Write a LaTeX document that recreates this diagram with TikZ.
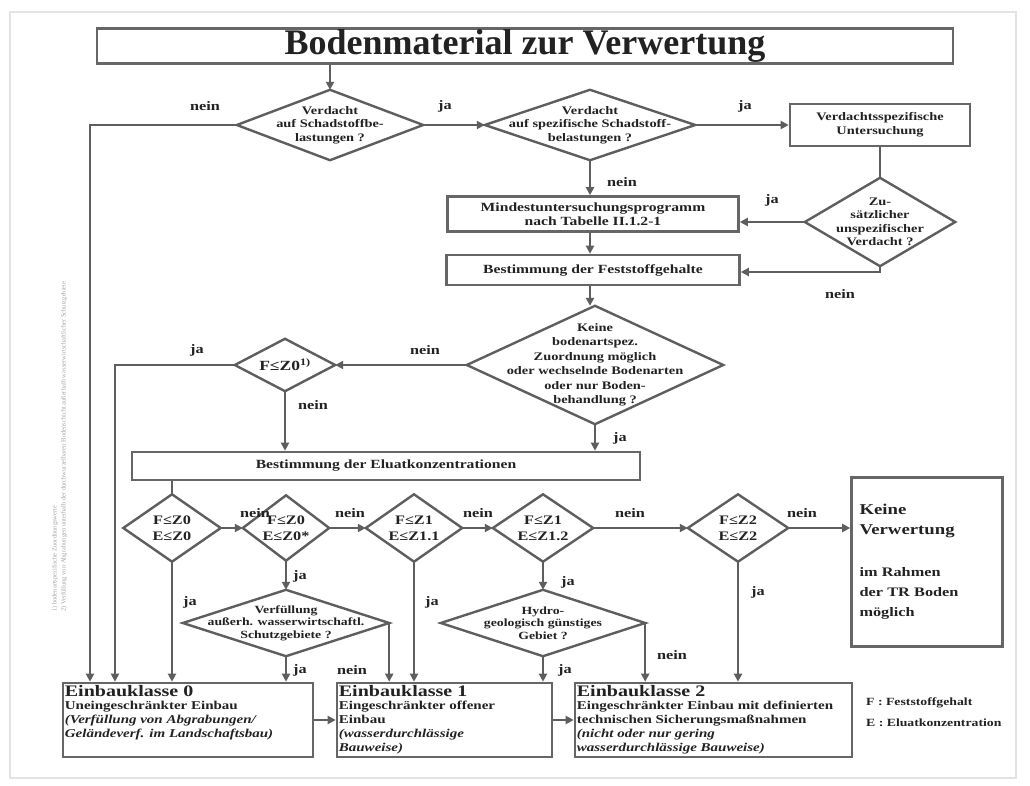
\documentclass[tikz,border=0pt]{standalone}
\usepackage{fontspec}
\setmainfont{Liberation Serif}
\newfontfamily\bodyfont{Liberation Serif}[FakeStretch=1.25]
\usetikzlibrary{arrows.meta,calc}
\definecolor{lc}{HTML}{5E5E5E}
\definecolor{bc}{HTML}{666666}
\definecolor{tc}{HTML}{222222}
\newcommand\myfs[2]{\bodyfont\bfseries\fontsize{#1}{#2}\selectfont}
\newcommand\drawdia[1]{\draw[ln] (#1.north)--(#1.east)--(#1.south)--(#1.west)--cycle;}
\begin{document}
\begin{tikzpicture}[x=1pt,y=-1pt,
  ln/.style={draw=lc, line width=2.4pt},
  arr/.style={ln, -{Triangle[length=8pt,width=8pt]}},
  bx/.style={draw=bc, line width=2.6pt, rectangle, inner sep=0pt, text=tc, align=center, font=\myfs{12.5}{14}},
  dm/.style={rectangle, inner sep=0pt, text=tc, align=center, font=\myfs{11.5}{13.5}},
  lab/.style={inner sep=0pt, text=tc, font=\myfs{13}{14}},
  ektxt/.style={inner sep=0pt, text=tc, align=left, anchor=north west, font=\myfs{12}{13.8}},
  fn/.style={inner sep=0pt, rotate=90, anchor=west, text=gray!70, font=\fontsize{6.5}{7}\selectfont}]
\fill[white] (0,0) rectangle (1030,786);
\useasboundingbox (0,0) rectangle (1030,786);
\draw[gray!22, line width=1.5pt] (10,12) rectangle (1016,778);

% title
\node[bx, minimum width=856pt, minimum height=35pt, font=\bfseries\fontsize{36}{37}\selectfont] (title) at (525,46) {Bodenmaterial zur Verwertung};

% top part
\node[dm, minimum width=186pt, minimum height=70pt] (d1) at (330,125) {Verdacht\\auf Schadstoffbe-\\lastungen ?};
\node[dm, minimum width=210pt, minimum height=70pt] (d2) at (590,125) {Verdacht\\auf spezifische Schadstoff-\\belastungen ?};
\node[bx, minimum width=180pt, minimum height=42pt, font=\myfs{11.5}{14}] (vu) at (880,125) {Verdachtsspezifische\\Untersuchung};
\node[dm, minimum width=150pt, minimum height=88pt] (d3) at (880,222) {Zu-\\sätzlicher\\unspezifischer\\Verdacht ?};
\node[bx, minimum width=291pt, minimum height=35pt] (mp) at (593,214) {Mindestuntersuchungsprogramm\\nach Tabelle II.1.2-1};
\node[bx, minimum width=293pt, minimum height=30pt] (fs) at (593,270) {Bestimmung der Feststoffgehalte};
\node[dm, minimum width=256pt, minimum height=118pt, font=\myfs{11.5}{14.5}] (d4) at (595,365) {Keine\\bodenartspez.\\Zuordnung möglich\\oder wechselnde Bodenarten\\oder nur Boden-\\behandlung ?};
\node[dm, minimum width=100pt, minimum height=52pt, font=\myfs{14}{15}] (d5) at (285,365) {F≤Z0\textsuperscript{1)}};
\node[bx, minimum width=508pt, minimum height=28pt] (el) at (386,466) {Bestimmung der Eluatkonzentrationen};

% row of diamonds
\node[dm, minimum width=97pt, minimum height=67pt, font=\myfs{13}{16}] (e1) at (172,528) {F≤Z0\\E≤Z0};
\node[dm, minimum width=86pt, minimum height=65pt, font=\myfs{13}{16}] (e2) at (286,528) {F≤Z0\\E≤Z0*};
\node[dm, minimum width=96pt, minimum height=67pt, font=\myfs{13}{16}] (e3) at (414,528) {F≤Z1\\E≤Z1.1};
\node[dm, minimum width=100pt, minimum height=67pt, font=\myfs{13}{16}] (e4) at (543,528) {F≤Z1\\E≤Z1.2};
\node[dm, minimum width=100pt, minimum height=67pt, font=\myfs{13}{16}] (e5) at (738,528) {F≤Z2\\E≤Z2};
\node[bx, minimum width=151pt, minimum height=169pt, text width=135pt, align=left, font=\myfs{13}{20}] (kv) at (927,562) {{\fontsize{15}{24}\selectfont Keine\\Verwertung}\\[22pt]im Rahmen\\der TR Boden\\möglich};
\node[dm, minimum width=206pt, minimum height=66pt, font=\myfs{11}{12.5}] (e6) at (286,623) {Verfüllung\\außerh. wasserwirtschaftl.\\Schutzgebiete ?};
\node[dm, minimum width=204pt, minimum height=66pt, font=\myfs{11}{12.5}] (e7) at (543,623) {Hydro-\\geologisch günstiges\\Gebiet ?};

% Einbauklassen
\node[bx, minimum width=250pt, minimum height=74pt] (ek0) at (188,720) {};
\node[bx, minimum width=215pt, minimum height=74pt] (ek1) at (444.5,720) {};
\node[bx, minimum width=277pt, minimum height=74pt] (ek2) at (713.5,720) {};
\node[ektxt] (t0) at ($(ek0.north west)+(3,3)$) {{\fontsize{16}{16}\selectfont Einbauklasse 0}\\Uneingeschränkter Einbau\\\textit{(Verfüllung von Abgrabungen/}\\\textit{Geländeverf. im Landschaftsbau)}};
\node[ektxt] (t1) at ($(ek1.north west)+(3,3)$) {{\fontsize{16}{16}\selectfont Einbauklasse 1}\\Eingeschränkter offener\\Einbau\\\textit{(wasserdurchlässige}\\\textit{Bauweise)}};
\node[ektxt] (t2) at ($(ek2.north west)+(3,3)$) {{\fontsize{16}{16}\selectfont Einbauklasse 2}\\Eingeschränkter Einbau mit definierten\\technischen Sicherungsmaßnahmen\\\textit{(nicht oder nur gering}\\\textit{wasserdurchlässige Bauweise)}};

% legend
\node[lab, anchor=west, font=\myfs{11}{12}] (lg1) at (866,703) {F : Feststoffgehalt};
\node[lab, anchor=west, font=\myfs{11}{12}] (lg2) at (866,723) {E : Eluatkonzentration};

% footnotes
\node[fn] (fn1) at (55,612) {1) bodenartspezifische Zuordnungswerte};
\node[fn] (fn2) at (64,612) {2) Verfüllung von Abgrabungen unterhalb der durchwurzelbaren Bodenschicht außerhalb wasserwirtschaftlicher Schutzgebiete};

% diamonds outlines
\foreach \d in {d1,d2,d3,d4,d5,e1,e2,e3,e4,e5,e6,e7} {\drawdia{\d}}

% coordinates
\coordinate (c1) at (90,125);
\coordinate (c2) at (880,272);
\coordinate (c3) at (115,365);

% connectors
\draw[arr] (d1.north |- title.south) -- (d1.north);
\draw[arr] (d1.west) -- (c1) -- (c1 |- ek0.north);
\draw[arr] (d1.east) -- (d2.west);
\draw[arr] (d2.east) -- (vu.west);
\draw[ln] (vu.south) -- (d3.north);
\draw[arr] (d3.west) -- (d3.west -| mp.east);
\draw[arr] (d2.south) -- (d2.south |- mp.north);
\draw[arr] (mp.south -| d2.south) -- (fs.north -| d2.south);
\draw[arr] (d3.south) -- (c2) -- (c2 -| fs.east);
\draw[arr] (fs.south -| d2.south) -- (d4.north -| d2.south);
\draw[arr] (d4.west) -- (d5.east);
\draw[arr] (d5.west) -- (c3) -- (c3 |- ek0.north);
\draw[arr] (d5.south) -- (d5.south |- el.north);
\draw[arr] (d4.south) -- (d4.south |- el.north);
\draw[ln] (el.south -| e1.north) -- (e1.north);
\draw[arr] (e1.east) -- (e2.west);
\draw[arr] (e2.east) -- (e3.west);
\draw[arr] (e3.east) -- (e4.west);
\draw[arr] (e4.east) -- (e5.west);
\draw[arr] (e5.east) -- (e5.east -| kv.west);
\draw[arr] (e1.south) -- (e1.south |- ek0.north);
\draw[arr] (e2.south) -- (e6.north);
\draw[arr] (e6.south) -- (e6.south |- ek0.north);
\draw[arr] (e6.east) -- (e6.east |- ek1.north);
\draw[arr] (e3.south) -- (e3.south |- ek1.north);
\draw[arr] (e4.south) -- (e7.north);
\draw[arr] (e7.south) -- (e7.south |- ek1.north);
\draw[arr] (e7.east) -- (e7.east |- ek2.north);
\draw[arr] (e5.south) -- (e5.south |- ek2.north);
\draw[arr] (ek0.east) -- (ek1.west);
\draw[arr] (ek1.east) -- (ek2.west);

% labels
\node[lab] (l1) at (205,106) {nein};
\node[lab] (l2) at (445,106) {ja};
\node[lab] (l3) at (745,106) {ja};
\node[lab] (l4) at (622,182) {nein};
\node[lab] (l5) at (772,200) {ja};
\node[lab] (l6) at (840,294) {nein};
\node[lab] (l7) at (425,350) {nein};
\node[lab] (l8) at (197,350) {ja};
\node[lab] (l9) at (313,405) {nein};
\node[lab] (l10) at (620,438) {ja};
\node[lab] (l11) at (255,513) {nein};
\node[lab] (l12) at (350,513) {nein};
\node[lab] (l13) at (478,513) {nein};
\node[lab] (l14) at (630,513) {nein};
\node[lab] (l15) at (802,513) {nein};
\node[lab] (l16) at (300,576) {ja};
\node[lab] (l17) at (190,602) {ja};
\node[lab] (l18) at (432,602) {ja};
\node[lab] (l19) at (568,582) {ja};
\node[lab] (l20) at (758,592) {ja};
\node[lab] (l21) at (300,670) {ja};
\node[lab] (l22) at (352,670) {nein};
\node[lab] (l23) at (565,670) {ja};
\node[lab] (l24) at (672,655) {nein};
\end{tikzpicture}
\end{document}
